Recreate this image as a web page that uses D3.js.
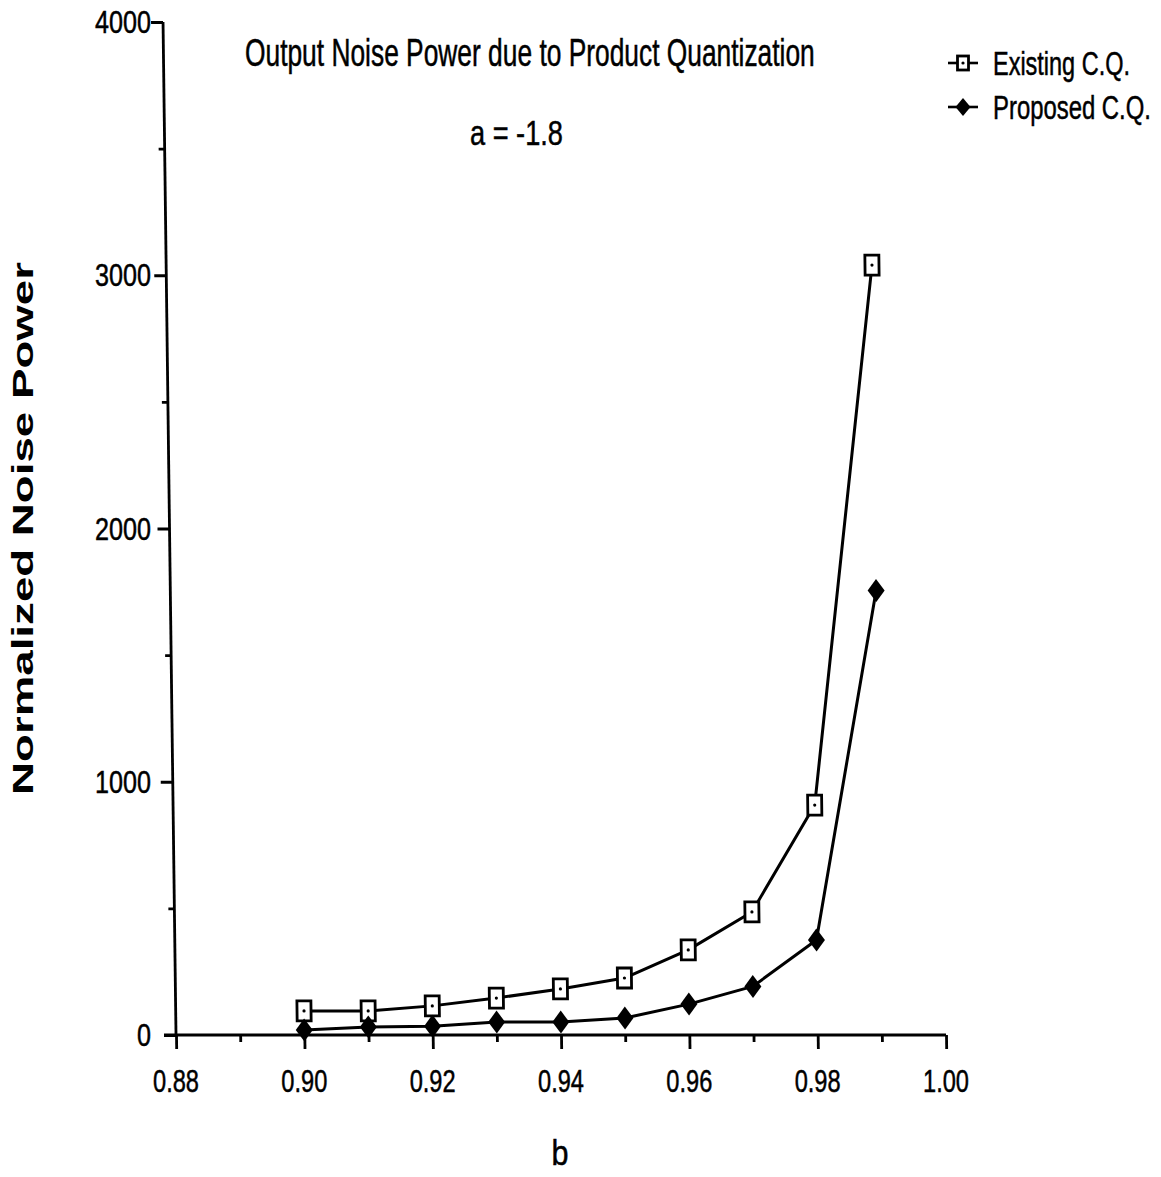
<!DOCTYPE html>
<html>
<head>
<meta charset="utf-8">
<script src="https://cdn.jsdelivr.net/npm/d3@7"></script>
<style>
  html, body { margin: 0; padding: 0; background: #fff; }
  svg { display: block; }
  .nar { font-family: "Liberation Sans Narrow", "Arial Narrow", "Liberation Sans", Arial, sans-serif; stroke: #000; stroke-width: 0.5px; }
</style>
</head>
<body>
<svg id="chart" width="1161" height="1177"></svg>
<script>
// ---- data ----
const bValues = [0.90, 0.91, 0.92, 0.93, 0.94, 0.95, 0.96, 0.97, 0.98, 0.99];
const existingCQ = [95, 95, 115, 146, 182, 225, 336, 486, 908, 3040];
const proposedCQ = [20, 32, 35, 51, 51, 67, 122, 192, 375, 1755];
const xTickLabels = ["0.88", "0.90", "0.92", "0.94", "0.96", "0.98", "1.00"];
const yTickLabels = ["0", "1000", "2000", "3000", "4000"];
const seriesNames = ["Existing C.Q.", "Proposed C.Q."];

const svg = d3.select("#chart");
const x = d3.scaleLinear().domain([0.88, 1.00]).range([176, 946]);
const y = d3.scaleLinear().domain([0, 4000]).range([1035, 22]);
const black = "#000";

// text drawn at (tx, ty) and squeezed horizontally to a target width
// anchor: "start" | "middle" | "end"
function fitText(parent, str, tx, ty, size, width, anchor) {
  const t = parent.append("text").attr("class", "nar").attr("font-size", size).attr("fill", black).text(str);
  const natural = t.node().getComputedTextLength() || width;
  const s = width / natural;
  const x0 = anchor === "middle" ? tx - width / 2 : anchor === "end" ? tx - width : tx;
  t.attr("transform", `translate(${x0},${ty}) scale(${s},1)`);
  return t;
}

// slight scan skew of the plotted frame
const skew = 0.0128;
const plot = svg.append("g")
  .attr("transform", `translate(${-skew * y(0)},0) skewX(${Math.atan(skew) * 180 / Math.PI})`);

// Y axis
const yMajor = plot.append("g").attr("transform", `translate(${x(0.88)},0)`)
  .call(d3.axisLeft(y).tickValues(yTickLabels.map(Number)).tickSize(12).tickSizeOuter(0).tickFormat(""));
const yMinor = plot.append("g").attr("transform", `translate(${x(0.88)},0)`)
  .call(d3.axisLeft(y).tickValues([500, 1500, 2500, 3500]).tickSize(6).tickFormat(""));
yMinor.select(".domain").remove();

// X axis
const xMajor = plot.append("g").attr("transform", `translate(0,${y(0)})`)
  .call(d3.axisBottom(x).tickValues(xTickLabels.map(Number)).tickSize(14).tickSizeOuter(0).tickFormat(""));
const xMinor = plot.append("g").attr("transform", `translate(0,${y(0)})`)
  .call(d3.axisBottom(x).tickValues([0.89, 0.91, 0.93, 0.95, 0.97, 0.99]).tickSize(7).tickFormat(""));
xMinor.select(".domain").remove();

plot.selectAll(".domain").attr("stroke", black).attr("stroke-width", 2.8);
plot.selectAll(".tick line").attr("stroke", black).attr("stroke-width", 2.8);
yMajor.select(".domain").attr("d", `M0,${y(4000)}V${y(0) + 2}`);
xMajor.select(".domain").attr("d", `M${x(0.88) - 12},0H${x(1.00)}`);

// series lines
const line = d3.line().x((d, i) => x(bValues[i])).y(d => y(d));
[existingCQ, proposedCQ].forEach(s => {
  plot.append("path").datum(s).attr("d", line)
    .attr("fill", "none").attr("stroke", black).attr("stroke-width", 3).attr("stroke-linejoin", "round");
});

// markers
function squareMarker(g, cx, cy, w, h) {
  g.append("rect").attr("x", cx - w / 2).attr("y", cy - h / 2).attr("width", w).attr("height", h)
    .attr("fill", "#fff").attr("stroke", black).attr("stroke-width", 2.8);
  g.append("circle").attr("cx", cx).attr("cy", cy).attr("r", 1.6).attr("fill", black);
}
function diamondMarker(g, cx, cy, w, h) {
  g.append("path").attr("d", `M${cx},${cy - h / 2}L${cx + w / 2},${cy}L${cx},${cy + h / 2}L${cx - w / 2},${cy}Z`)
    .attr("fill", black);
}
existingCQ.forEach((v, i) => squareMarker(plot, x(bValues[i]), y(v), 14, 20));
proposedCQ.forEach((v, i) => diamondMarker(plot, x(bValues[i]), y(v), 17, 23));

// tick labels (not skewed)
const tl = svg.append("g");
xTickLabels.forEach(t => fitText(tl, t, x(+t), 1092, 32, 46, "middle"));
yTickLabels.forEach(t => fitText(tl, t, 151, y(+t) + 11, 32, t.length * 14, "end"));

// title and annotation
fitText(svg, "Output Noise Power due to Product Quantization", 245, 66, 38, 570, "start");
fitText(svg, "a = -1.8", 470, 145, 36, 93, "start");

// axis titles
fitText(svg, "b", 560, 1165, 36, 17, "middle");
svg.append("text")
  .attr("transform", "translate(33,795) rotate(-90)")
  .attr("font-family", "Liberation Sans, Arial, sans-serif").attr("font-weight", "bold")
  .attr("font-size", 29).attr("textLength", 533).attr("lengthAdjust", "spacingAndGlyphs")
  .text("Normalized Noise Power");

// legend
const lg = svg.append("g");
const legendY = [63, 107];
legendY.forEach((ly, i) => {
  lg.append("line").attr("x1", 948).attr("x2", 978).attr("y1", ly).attr("y2", ly)
    .attr("stroke", black).attr("stroke-width", 2.6);
  if (i === 0) squareMarker(lg, 963, ly, 11, 14); else diamondMarker(lg, 963, ly, 15, 18);
  fitText(lg, seriesNames[i], 993, ly + 12, 33, i === 0 ? 137 : 158, "start");
});
</script>
</body>
</html>
